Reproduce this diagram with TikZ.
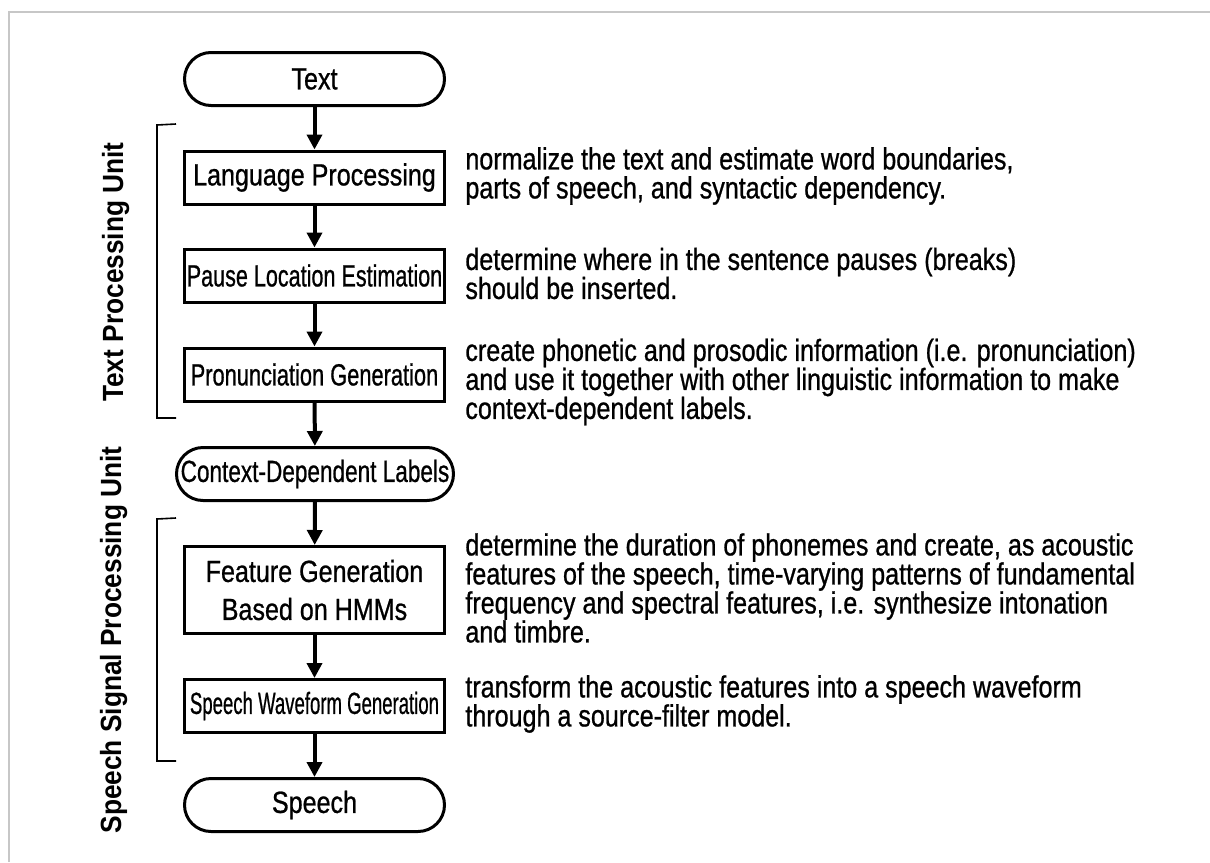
\documentclass[tikz,border=0pt]{standalone}
\usepackage{fontspec}
\setmainfont{Liberation Sans}[FakeStretch=0.82,FakeBold=0.8]
\newfontfamily\unitfont{Liberation Sans Bold}[FakeStretch=0.9]
\usetikzlibrary{arrows.meta,positioning}

\tikzset{
  block/.style={rectangle, draw, line width=1.5pt,
    minimum width=130pt, minimum height=26.5pt, inner sep=1pt,
    font=\fontsize{15.3pt}{19pt}\selectfont, align=center},
  term/.style={block, rounded corners=13.25pt},
  note/.style={anchor=west, align=left, inner sep=0pt,
    font=\fontsize{15.3pt}{14.5pt}\selectfont},
  flow/.style={line width=2pt, -{Triangle[width=7.5pt,length=7.5pt]}},
  unit/.style={rotate=90, anchor=base, inner sep=0pt,
    font=\unitfont\fontsize{14.6pt}{14.6pt}\selectfont},
  brace/.style={line width=0.8pt}
}

\begin{document}
\begin{tikzpicture}[x=0.5pt,y=-0.5pt]
\useasboundingbox (0,0) rectangle (1210,862);
\draw[black!22, line width=1pt] (9,862) -- (9,12) -- (1210,12);

% flow of boxes
\node[term] (txt) at (314.5,79) {Text};
\node[block] (lang) at (314.5,177.5) {Language Processing};
\node[block] (pause) at (314.5,275.5) {\scalebox{0.86}[1]{Pause Location Estimation}};
\node[block] (pron) at (314.5,374.5) {\scalebox{0.87}[1]{Pronunciation Generation}};
\node[term, minimum width=138.5pt] (ctx) at (315,474) {\scalebox{0.9}[1]{Context-Dependent Labels}};
\node[block, minimum height=43.5pt] (feat) at (314.5,590) {Feature Generation\\Based on HMMs};
\node[block] (wave) at (314.5,706) {\scalebox{0.74}[1]{Speech Waveform Generation}};
\node[term] (spch) at (314.5,805) {Speech};

\draw[flow] (txt) -- (lang);
\draw[flow] (lang) -- (pause);
\draw[flow] (pause) -- (pron);
\draw[flow] (pron) -- (ctx);
\draw[flow] (ctx) -- (feat);
\draw[flow] (feat) -- (wave);
\draw[flow] (wave) -- (spch);

% descriptions
\node[note] (langnote) at (465,176) {normalize the text and estimate word boundaries,\\parts of speech, and syntactic dependency.};
\node[note] (pausenote) at (465,273.5) {determine where in the sentence pauses (breaks)\\should be inserted.};
\node[note] (pronnote) at (465,382) {create phonetic and prosodic information (i.e. pronunciation)\\and use it together with other linguistic information to make\\context-dependent labels.};
\node[note] (featnote) at (465,588) {determine the duration of phonemes and create, as acoustic\\features of the speech, time-varying patterns of fundamental\\frequency and spectral features, i.e. synthesize intonation\\and timbre.};
\node[note] (wavenote) at (465,704) {transform the acoustic features into a speech waveform\\through a source-filter model.};

% units
\coordinate (t1) at (176,124);
\coordinate (t2) at (176,418);
\coordinate (s1) at (176,518);
\coordinate (s2) at (176,761);
\draw[brace] (t1) -- ++(-19,1) |- (t2);
\draw[brace] (s1) -- ++(-19,1) |- (s2);
\node[unit] (tunit) at (123,272) {Text Processing Unit};
\node[unit] (sunit) at (121,640) {Speech Signal Processing Unit};
\end{tikzpicture}
\end{document}
